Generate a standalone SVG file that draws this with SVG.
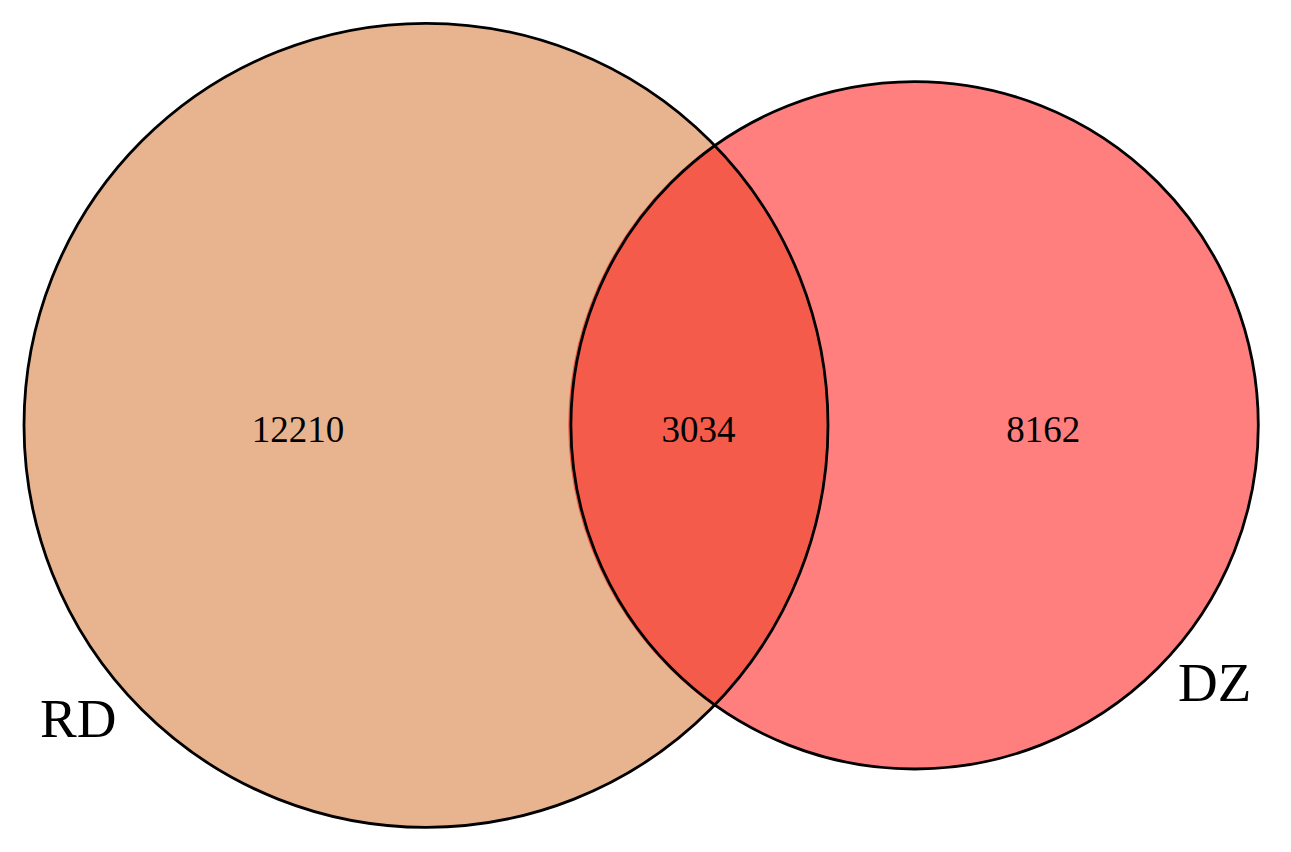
<svg xmlns="http://www.w3.org/2000/svg" width="1291" height="852" viewBox="0 0 1291 852">
<style>
.num{font-family:"Liberation Serif","Times New Roman",serif;font-size:37px;fill:#000;text-anchor:middle}
.lbl{font-family:"Liberation Serif","Times New Roman",serif;font-size:55px;fill:#000}
.edge{fill:none;stroke:#000;stroke-width:2.8}
</style>
<rect width="1291" height="852" fill="#fff"/>
<g id="RD">
<circle cx="426" cy="425.3" r="402" fill="#E8B48F"/>
</g>
<g id="DZ">
<circle cx="914.6" cy="425.3" r="343.7" fill="#FF7F7F"/>
</g>
<g id="RD_DZ">
<path d="M714.3 144.1 A343.7 343.7 0 0 0 714.3 706.5 A402 402 0 0 0 714.3 144.1 Z" fill="#F45B4A"/>
</g>
<g id="connectors">
<circle class="edge" cx="426" cy="425.3" r="402"/>
<circle class="edge" cx="914.6" cy="425.3" r="343.7"/>
</g>
<g id="labels">
<text class="num" transform="translate(298 441.5) scale(1 1.05)">12210</text>
<text class="num" transform="translate(698.5 441.5) scale(1 1.05)">3034</text>
<text class="num" transform="translate(1043.3 441.5) scale(1 1.05)">8162</text>
<text class="lbl" x="40" y="737">RD</text>
<text class="lbl" x="1178" y="700.5" font-size="56">DZ</text>
</g>
</svg>
